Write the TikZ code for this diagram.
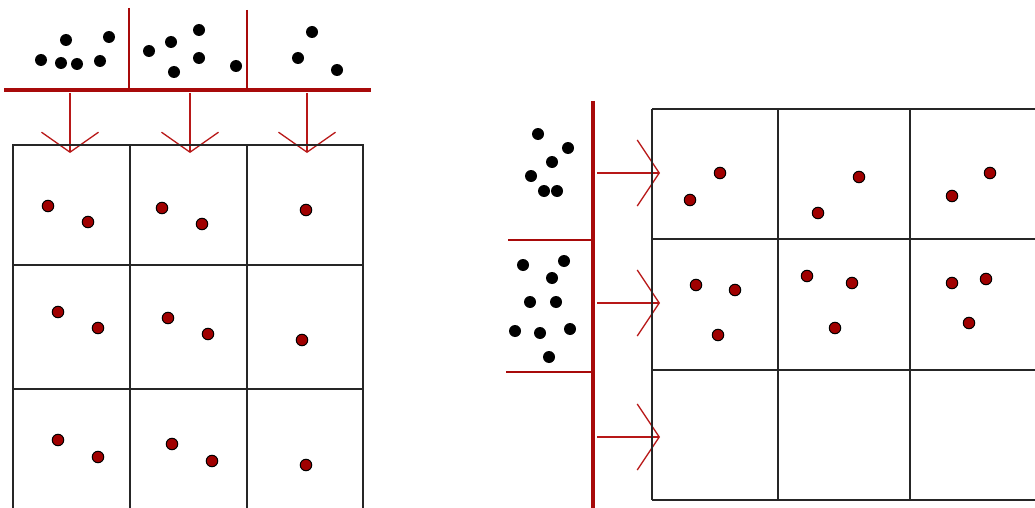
\documentclass[tikz,border=0pt]{standalone}
\usetikzlibrary{arrows.meta}
\definecolor{barred}{HTML}{A80A0A}
\definecolor{feedred}{HTML}{B81818}
\definecolor{dotred}{HTML}{A00000}
\tikzset{
  gridline/.style={line width=1.5pt, draw=black!85},
  barline/.style={line width=3.2pt, draw=barred},
  divline/.style={line width=1.4pt, draw=barred},
  feedh/.style={line width=1.3pt, draw=feedred, -{Straight Barb[length=20pt,width=57pt,line width=1.3pt]}},
  feedv/.style={line width=1.3pt, draw=feedred, -{Straight Barb[length=22pt,width=66pt,line width=1.3pt]}},
  bdot/.style={circle, fill=black, inner sep=0pt, minimum size=12pt},
  rdot/.style={circle, fill=dotred, draw=black, line width=1pt, inner sep=0pt, minimum size=11.5pt},
}
\begin{document}
\begin{tikzpicture}[x=1pt,y=-1pt]
\useasboundingbox (0,0) rectangle (1035,508);
\clip (0,0) rectangle (1035,508);

% ---------- left: batches fed column-wise ----------
% source bar and its dividers
\coordinate (LbarL) at (4,90);
\coordinate (LbarR) at (371,90);
\draw[barline] (LbarL) -- (LbarR);
\coordinate (Ld1t) at (129,8);  \coordinate (Ld1b) at (129,90);
\coordinate (Ld2t) at (247,10); \coordinate (Ld2b) at (247,90);
\draw[divline] (Ld1t) -- (Ld1b);
\draw[divline] (Ld2t) -- (Ld2b);

% black points in the three source sections
\foreach \p in {(41,60),(66,40),(61,63),(77,64),(100,61),(109,37),
                (149,51),(171,42),(199,30),(199,58),(174,72),(236,66),
                (312,32),(298,58),(337,70)}
  \node[bdot] at \p {};

% feed arrows into the grid
\foreach \i/\x in {1/70,2/190,3/307} {
  \coordinate (Ls\i) at (\x,93);
  \coordinate (Lt\i) at (\x,153);
  \draw[feedh] (Ls\i) -- (Lt\i);
}

% grid
\draw[gridline] (13,145) rectangle (363,520);
\draw[gridline] (130,145) -- (130,520);
\draw[gridline] (247,145) -- (247,520);
\draw[gridline] (13,265) -- (363,265);
\draw[gridline] (13,389) -- (363,389);

% red points in the grid cells
\foreach \p in {(48,206),(88,222),(162,208),(202,224),(306,210),
                (58,312),(98,328),(168,318),(208,334),(302,340),
                (58,440),(98,457),(172,444),(212,461),(306,465)}
  \node[rdot] at \p {};

% ---------- right: batches fed row-wise ----------
\coordinate (RbarT) at (593,101);
\coordinate (RbarB) at (593,515);
\draw[barline] (RbarT) -- (RbarB);
\coordinate (Rd1l) at (508,240); \coordinate (Rd1r) at (593,240);
\coordinate (Rd2l) at (506,372); \coordinate (Rd2r) at (593,372);
\draw[divline] (Rd1l) -- (Rd1r);
\draw[divline] (Rd2l) -- (Rd2r);

% black points in the source sections
\foreach \p in {(538,134),(568,148),(552,162),(531,176),(544,191),(557,191),
                (523,265),(564,261),(552,278),(530,302),(556,302),
                (515,331),(540,333),(570,329),(549,357)}
  \node[bdot] at \p {};

% feed arrows into the grid
\foreach \i/\y in {1/173,2/303,3/437} {
  \coordinate (Rs\i) at (597,\y);
  \coordinate (Rt\i) at (660,\y);
  \draw[feedv] (Rs\i) -- (Rt\i);
}

% grid
\draw[gridline] (652,109) -- (1045,109);
\draw[gridline] (652,500) -- (1045,500);
\draw[gridline] (652,109) -- (652,500);
\draw[gridline] (778,109) -- (778,500);
\draw[gridline] (910,109) -- (910,500);
\draw[gridline] (652,239) -- (1045,239);
\draw[gridline] (652,370) -- (1045,370);

% red points in the grid cells
\foreach \p in {(690,200),(720,173),(818,213),(859,177),(952,196),(990,173),
                (696,285),(735,290),(718,335),(807,276),(852,283),(835,328),
                (952,283),(986,279),(969,323)}
  \node[rdot] at \p {};
\end{tikzpicture}
\end{document}
